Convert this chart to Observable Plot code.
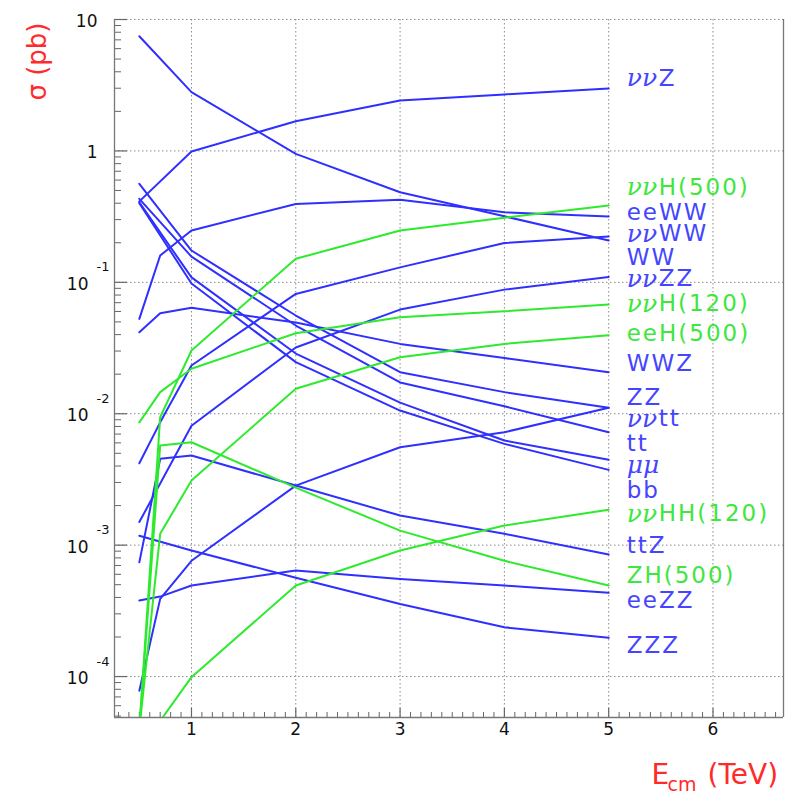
<!DOCTYPE html>
<html><head><meta charset="utf-8">
<script src="https://cdn.jsdelivr.net/npm/d3@7"></script>
<script src="https://cdn.jsdelivr.net/npm/@observablehq/plot@0.6"></script>
<style>html,body{margin:0;padding:0;background:#fff;overflow:hidden} #chart svg{display:block}</style>
</head><body><div id="chart"></div>
<script>
// centre-of-mass energies (TeV)
const energies = [0.5, 0.7, 1, 2, 3, 4, 5];
// cross sections (pb); null = no point at that energy
const WW      = [7.46, null, 2.80, 0.95, 0.485, 0.318, 0.208];
const nnZ     = [0.413, null, 0.99, 1.68, 2.42, 2.69, 2.98];
const eeWW    = [0.0527, 0.160, 0.248, 0.395, 0.425, 0.341, 0.317];
const nnWW    = [0.0042, 0.0086, 0.0233, 0.0816, 0.130, 0.199, 0.223];
const nnZZ    = [0.0015, null, 0.0081, 0.0319, 0.062, 0.088, 0.110];
const WWZ     = [0.0417, 0.0582, 0.0640, 0.0494, 0.0340, 0.0265, 0.0207];
const ZZ      = [0.562, null, 0.1746, 0.0559, 0.0207, 0.0146, 0.0111];
const tt      = [0.432, null, 0.157, 0.0469, 0.0173, 0.0114, 0.00723];
const mumu    = [0.407, null, 0.109, 0.0287, 0.01216, 0.00625, 0.00446];
const bb      = [0.400, null, 0.098, 0.0247, 0.01057, 0.0059, 0.00374];
const nntt    = [0.000078, 0.00039, 0.00076, 0.00284, 0.00556, 0.00723, 0.0111];
const ttZ     = [0.00074, 0.00454, 0.00481, 0.00284, 0.00168, 0.00122, 0.00085];
const eeZZ    = [0.000379, 0.000406, 0.000493, 0.000641, 0.000553, 0.000493, 0.000434];
const ZZZ     = [0.00118, null, 0.00091, 0.000565, 0.000357, 0.000237, 0.000197];
const nnH500  = [0.00004, 0.0094, 0.0303, 0.151, 0.248, 0.31, 0.384];
const nnH120  = [0.0086, 0.0146, 0.0220, 0.041, 0.0542, 0.0602, 0.0678];
const eeH500  = [0.00004, 0.00122, 0.0031, 0.0155, 0.0269, 0.034, 0.0395];
const nnHH120 = [null, 0.000046, 0.000099, 0.000493, 0.00091, 0.00141, 0.00186];
const ZH500   = [0.00004, 0.00573, 0.00607, 0.00274, 0.00129, 0.00076, 0.000493];

const processNames  = ["WW","ννZ","eeWW","ννWW","ννZZ","WWZ","ZZ","tt","μμ","bb","ννtt","ttZ","eeZZ","ZZZ",
                       "ννH(500)","ννH(120)","eeH(500)","ννHH(120)","ZH(500)"];
const processValues = [WW,nnZ,eeWW,nnWW,nnZZ,WWZ,ZZ,tt,mumu,bb,nntt,ttZ,eeZZ,ZZZ,nnH500,nnH120,eeH500,nnHH120,ZH500];
const higgsProcesses = ["ννH(500)","ννH(120)","eeH(500)","ννHH(120)","ZH(500)"];

// right-hand labels and the cross-section level at which each sits
const labelNames = ["ννZ","ννH(500)","eeWW","ννWW","WW","ννZZ","ννH(120)","eeH(500)","WWZ","ZZ","ννtt","tt","μμ","bb",
                    "ννHH(120)","ttZ","ZH(500)","eeZZ","ZZZ"];
const labelY = [3.56,0.53,0.341,0.234,0.155,0.1064,0.0686,0.0406,0.024,0.01336,0.00915,0.0059,0.00404,0.00261,
                0.00173,0.000993,0.000587,0.000379,0.000172];

// axis ticks
const yDecades = [10, 1, 0.1, 0.01, 0.001, 0.0001];
const yBase = ["10","1","10","10","10","10"];
const yExp  = ["","","-1","-2","-3","-4"];
const xMajor = [1, 2, 3, 4, 5, 6];

// ---- build ----
const xDomain = [0.262, 6.676];
const yDomain = [4.88e-5, 10];
const W = 788, H = 795, mL = 114, mR = 5, mT = 19, mB = 78;
const fw = W - mL - mR, fh = H - mT - mB;

const BLUE = "#2f2fff", GREEN = "#2eea2e";
const BLUE_T = "#4545ff", GREEN_T = "#3ee63e";

const rows = processNames.flatMap((p, i) =>
  energies.map((e, j) => ({process: p, E: e, sigma: processValues[i][j], higgs: higgsProcesses.includes(p)}))
          .filter(d => d.sigma != null));

const yMinor = [];
for (let k = -5; k <= 0; k++) for (let m = 2; m <= 9; m++) {
  const v = m * Math.pow(10, k);
  if (v > yDomain[0] && v < yDomain[1]) yMinor.push(v);
}
const xMinor = d3.range(3, 67).map(i => i / 10).filter(v => v > xDomain[0] && v < xDomain[1] && Math.abs(v - Math.round(v)) > 1e-9);

const labels = labelNames.map((n, i) => {
  const m = n.match(/^([νμ]*)(.*)$/);
  return {name: n, greek: m[1], rest: m[2], y: labelY[i], higgs: higgsProcesses.includes(n), E: energies[energies.length - 1]};
});
const yTicks = yDecades.map((v, i) => ({v, base: yBase[i], exp: yExp[i]}));

const FONT = "DejaVu Sans";
const gridStyle = {stroke: "#8a8a8a", strokeWidth: 1, strokeDasharray: "1.5,2.5"};

const chart = Plot.plot({
  width: W, height: H,
  marginLeft: mL, marginRight: mR, marginTop: mT, marginBottom: mB,
  x: {domain: xDomain, axis: null},
  y: {type: "log", domain: yDomain, axis: null},
  style: {background: "#fff", fontFamily: FONT},
  marks: [
    // grid
    Plot.ruleY(yDecades, gridStyle),
    Plot.ruleX(xMajor, gridStyle),
    // ticks (inside)
    Plot.ruleY(yDecades, {stroke: "#666", strokeWidth: 1.2, insetRight: fw - 13}),
    Plot.ruleY(yMinor, {stroke: "#666", strokeWidth: 1, insetRight: fw - 7}),
    Plot.ruleX(xMajor, {stroke: "#666", strokeWidth: 1.2, insetTop: fh - 9}),
    Plot.ruleX(xMinor, {stroke: "#666", strokeWidth: 1, insetTop: fh - 5}),
    // frame
    Plot.ruleX([xDomain[0], xDomain[1]], {stroke: "#777", strokeWidth: 1.3}),
    Plot.ruleY([yDomain[0]], {stroke: "#777", strokeWidth: 1.3}),
    // curves
    Plot.line(rows.filter(d => !d.higgs), {x: "E", y: "sigma", z: "process", stroke: BLUE, strokeWidth: 2, clip: true}),
    Plot.line(rows.filter(d => d.higgs), {x: "E", y: "sigma", z: "process", stroke: GREEN, strokeWidth: 2, clip: true}),
    // right-hand labels
    Plot.text(labels.filter(d => d.greek), {x: "E", y: "y", text: "greek", textAnchor: "start", dx: 18,
      fill: d => d.higgs ? GREEN_T : BLUE_T, fontSize: 25, fontStyle: "italic", fontFamily: "DejaVu Serif"}),
    Plot.text(labels.filter(d => d.greek && d.rest), {x: "E", y: "y", text: "rest", textAnchor: "start", dx: 50,
      fill: d => d.higgs ? GREEN_T : BLUE_T, fontSize: 23, fontFamily: FONT}),
    Plot.text(labels.filter(d => !d.greek), {x: "E", y: "y", text: "rest", textAnchor: "start", dx: 18,
      fill: d => d.higgs ? GREEN_T : BLUE_T, fontSize: 23, fontFamily: FONT}),
    // y tick labels
    Plot.text(yTicks.filter(d => !d.exp), {x: () => xDomain[0], y: "v", text: "base", textAnchor: "end", dx: -17, dy: 2, fontSize: 17, fill: "#111"}),
    Plot.text(yTicks.filter(d => d.exp), {x: () => xDomain[0], y: "v", text: "base", textAnchor: "end", dx: -26, dy: 2, fontSize: 17, fill: "#111"}),
    Plot.text(yTicks.filter(d => d.exp), {x: () => xDomain[0], y: "v", text: "exp", textAnchor: "start", dx: -18, dy: -15, fontSize: 13, fill: "#111"}),
    // x tick labels
    Plot.text(xMajor, {x: d => d, text: d => String(d), frameAnchor: "bottom", dy: 17, fontSize: 17, fill: "#111"}),
    // axis titles
    Plot.text(["σ (pb)"], {frameAnchor: "top-left", text: d => d, rotate: -90, textAnchor: "end", dx: -87, dy: 3, fill: "#ff2a2a", fontSize: 26}),
    Plot.text(["E"], {frameAnchor: "bottom-right", text: d => d, textAnchor: "start", lineAnchor: "bottom", dx: -132, dy: 66, fill: "#ff2a2a", fontSize: 28}),
    Plot.text(["cm"], {frameAnchor: "bottom-right", text: d => d, textAnchor: "start", lineAnchor: "bottom", dx: -116, dy: 73, fill: "#ff2a2a", fontSize: 19}),
    Plot.text(["(TeV)"], {frameAnchor: "bottom-right", text: d => d, textAnchor: "start", lineAnchor: "bottom", dx: -76, dy: 66, fill: "#ff2a2a", fontSize: 28})
  ]
});
// the reference's label lettering is set wide: add letter spacing to the non-Greek label parts
d3.select(chart).selectAll("text")
  .filter(function() {
    const f = this.getAttribute("fill");
    return (f === BLUE_T || f === GREEN_T) && !/^[νμ]+$/.test(this.textContent);
  })
  .attr("letter-spacing", "2px");
document.getElementById("chart").append(chart);
</script>
</body></html>
